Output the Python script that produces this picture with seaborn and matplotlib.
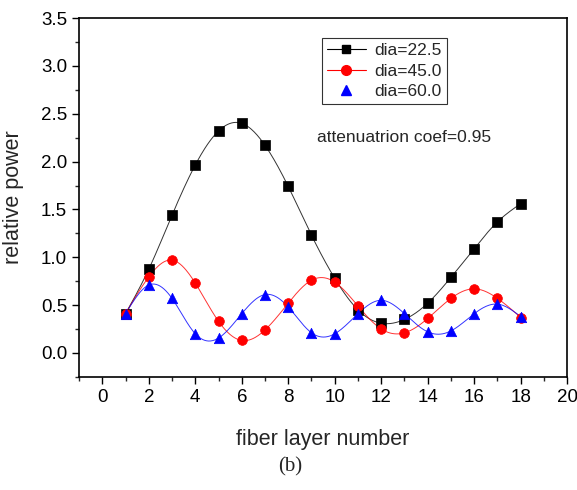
import numpy as np
import pandas as pd
import matplotlib
matplotlib.use("Agg")
import matplotlib.pyplot as plt
import seaborn as sns
from matplotlib.ticker import MultipleLocator
from matplotlib.lines import Line2D

layers = list(range(1, 19))
dia_22_5 = [0.41, 0.875, 1.44, 1.965, 2.32, 2.40, 2.17, 1.74, 1.23, 0.78,
            0.45, 0.31, 0.35, 0.52, 0.79, 1.09, 1.37, 1.56]
dia_45_0 = [0.41, 0.795, 0.97, 0.73, 0.33, 0.13, 0.24, 0.52, 0.76, 0.74,
            0.49, 0.25, 0.21, 0.36, 0.57, 0.67, 0.57, 0.37]
dia_60_0 = [0.41, 0.71, 0.57, 0.20, 0.155, 0.41, 0.61, 0.48, 0.21, 0.20,
            0.41, 0.55, 0.41, 0.22, 0.23, 0.41, 0.51, 0.38]
series_names = ["dia=22.5", "dia=45.0", "dia=60.0"]
annotation = "attenuatrion coef=0.95"


def natural_spline(x, y, n=400):
    x = np.asarray(x, float)
    y = np.asarray(y, float)
    k = len(x)
    h = np.diff(x)
    A = np.zeros((k, k))
    b = np.zeros(k)
    A[0, 0] = A[-1, -1] = 1
    for i in range(1, k - 1):
        A[i, i - 1] = h[i - 1]
        A[i, i] = 2 * (h[i - 1] + h[i])
        A[i, i + 1] = h[i]
        b[i] = 3 * ((y[i + 1] - y[i]) / h[i] - (y[i] - y[i - 1]) / h[i - 1])
    c = np.linalg.solve(A, b)
    xs = np.linspace(x[0], x[-1], n)
    idx = np.clip(np.searchsorted(x, xs) - 1, 0, k - 2)
    dx = xs - x[idx]
    bb = (y[idx + 1] - y[idx]) / h[idx] - h[idx] * (2 * c[idx] + c[idx + 1]) / 3
    dd = (c[idx + 1] - c[idx]) / (3 * h[idx])
    ys = y[idx] + bb * dx + c[idx] * dx ** 2 + dd * dx ** 3
    return xs, ys


sns.set_style("ticks")
plt.rcParams["font.family"] = ["Liberation Sans", "DejaVu Sans"]

fig = plt.figure(figsize=(5.77, 4.9), dpi=100)
ax = fig.add_axes([0.137, 0.231, 0.846, 0.732])

styles = [
    (dia_22_5, "black", "s", 6.5, "-"),
    (dia_45_0, "red", "o", 7.0, "-"),
    (dia_60_0, "blue", "^", 7.5, "-"),
]
for (vals, col, mk, ms, ls), name in zip(styles, series_names):
    xs, ys = natural_spline(layers, vals)
    sm = pd.DataFrame({"x": xs, "y": ys})
    sns.lineplot(data=sm, x="x", y="y", ax=ax, color=col, lw=0.7, linestyle=ls,
                 alpha=0.8, sort=False, legend=False)
    df = pd.DataFrame({"x": layers, "y": vals})
    sns.scatterplot(data=df, x="x", y="y", ax=ax, color=col, marker=mk,
                    s=ms ** 2, edgecolor=col, linewidth=0.5, legend=False, zorder=3)

ax.set_xlim(-1, 20)
ax.set_ylim(-0.25, 3.5)
ax.xaxis.set_major_locator(MultipleLocator(2))
ax.xaxis.set_minor_locator(MultipleLocator(1))
ax.yaxis.set_major_locator(MultipleLocator(0.5))
ax.yaxis.set_minor_locator(MultipleLocator(0.25))
ax.yaxis.set_major_formatter(matplotlib.ticker.FormatStrFormatter("%.1f"))
ax.tick_params(which="major", direction="out", length=5, width=1, labelsize=13.5, colors="black")
ax.tick_params(which="minor", direction="out", length=3, width=1)
for sp in ax.spines.values():
    sp.set_visible(True)
    sp.set_linewidth(1.2)
    sp.set_color("black")

ax.set_xlabel("fiber layer number", fontsize=15.5)
ax.set_ylabel("relative power", fontsize=15.5)
ax.xaxis.set_label_coords(0.5, -0.145)
ax.yaxis.set_label_coords(-0.112, 0.5)

handles = [
    Line2D([], [], color="black", marker="s", ms=6, lw=0.8),
    Line2D([], [], color="red", marker="o", ms=7, lw=0.8),
    Line2D([], [], color="blue", marker="^", ms=7, lw=0),
]
leg = ax.legend(handles, series_names, loc="upper left", bbox_to_anchor=(0.498, 0.945),
                fontsize=12.5, frameon=True, fancybox=False, handlelength=2.2,
                handletextpad=0.5, borderpad=0.3, labelspacing=0.3, borderaxespad=0)
leg.get_frame().set_edgecolor("black")
leg.get_frame().set_linewidth(0.8)

ax.text(0.487, 0.668, annotation, transform=ax.transAxes, fontsize=12.5,
        va="center", ha="left")

fig.text(0.503, 0.047, "(b)", fontsize=15, family=["Liberation Serif"], ha="center", va="center")

fig.savefig("out.png", dpi=100)
